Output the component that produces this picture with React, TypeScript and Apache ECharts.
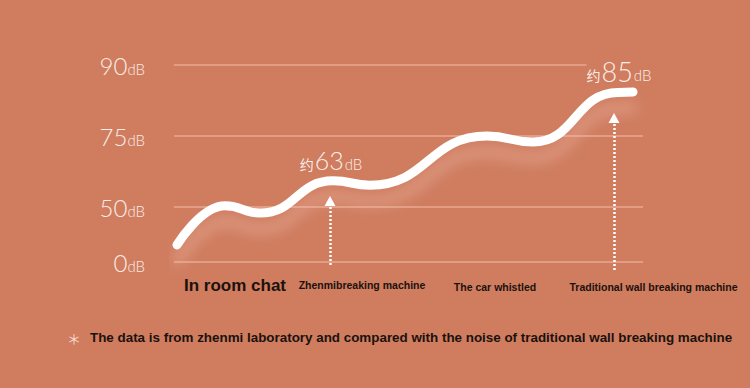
import React, { useEffect, useRef } from "react";
import * as echarts from "echarts";

// Axis: the dB scale of the picture is not linear; these are its stops.
const yTickDb = [0, 50, 75, 90];
const yTickLevel = [0, 55, 126, 197]; // axis level of each stop

// Curve (x along the axis, value in dB)
const curveX = [3, 51, 86, 159, 196, 313, 359, 444, 459];
const curveDb = [15.5, 50.4, 44.5, 59.2, 57.7, 75.0, 72.9, 84.2, 84.3];

// Bottom labels
const categories = ["In room chat", "Zhenmibreaking machine", "The car whistled", "Traditional wall breaking machine"];
const categoryX = [61, 188, 321, 469];

// Arrows with their callouts
const arrowX = [156, 440];
const arrowFromDb = [-2.7, -7.3];
const arrowToDb = [52.1, 78.8];
const calloutDb = [63, 85];

const footnote = "The data is from zhenmi laboratory and compared with the noise of traditional wall breaking machine";

const BG = "#CF7C5F";

function toLevel(db: number): number {
  if (db <= yTickDb[0]) {
    const s = (yTickLevel[1] - yTickLevel[0]) / (yTickDb[1] - yTickDb[0]);
    return yTickLevel[0] + (db - yTickDb[0]) * s;
  }
  for (let i = 1; i < yTickDb.length; i++) {
    if (db <= yTickDb[i] || i === yTickDb.length - 1) {
      const s = (yTickLevel[i] - yTickLevel[i - 1]) / (yTickDb[i] - yTickDb[i - 1]);
      return yTickLevel[i - 1] + (db - yTickDb[i - 1]) * s;
    }
  }
  return 0;
}

export default function App() {
  const ref = useRef<HTMLDivElement>(null);
  useEffect(() => {
    document.body.style.margin = "0";
    if (!ref.current) return;
    const chart = echarts.init(ref.current, null, { renderer: "svg" });
    const txt = "#FAEDE7";
    const calloutRich = {
      a: { fontSize: 14, color: txt, fontFamily: "Noto Sans CJK SC", lineHeight: 30, verticalAlign: "bottom", padding: [0, 1, 4, 0] },
      b0: { fontSize: 25, color: txt, fontFamily: "Lato", fontWeight: 300, lineHeight: 30 },
      b1: { fontSize: 27, color: txt, fontFamily: "Lato", fontWeight: 300, lineHeight: 30 },
      c: { fontSize: 15, color: txt, fontFamily: "Lato", fontWeight: 300, lineHeight: 30, verticalAlign: "bottom", padding: [0, 0, 4, 1] },
    };
    const distances = [26, 32];
    const offsets = [[1, 0], [5, 0]];
    const option: any = {
      animation: false,
      backgroundColor: BG,
      grid: { left: 174, right: 107, top: 65, bottom: 116 },
      xAxis: {
        type: "value",
        min: 0,
        max: 469,
        splitLine: { show: false },
        axisLine: { show: false },
        axisTick: { show: false },
        axisLabel: {
          customValues: categoryX,
          margin: 3,
          formatter: (v: number) => {
            const i = categoryX.indexOf(v);
            return `{c${i}|${categories[i]}}`;
          },
          rich: {
            c0: { fontSize: 17, fontWeight: "bold", fontFamily: "Liberation Sans", color: "#1B120E", lineHeight: 20 },
            c1: { fontSize: 10.5, fontWeight: "bold", fontFamily: "Liberation Sans", color: "#1B120E", lineHeight: 14, padding: [5, 0, 0, 0] },
            c2: { fontSize: 10.5, fontWeight: "bold", fontFamily: "Liberation Sans", color: "#1B120E", lineHeight: 14, padding: [9, 0, 0, 0] },
            c3: { fontSize: 10.5, fontWeight: "bold", fontFamily: "Liberation Sans", color: "#1B120E", lineHeight: 14, padding: [9, 0, 0, 21] },
          },
        },
      },
      yAxis: {
        type: "value",
        min: -10,
        max: yTickLevel[yTickLevel.length - 1],
        axisLine: { show: false },
        axisTick: { show: false, customValues: yTickLevel },
        splitLine: { show: true, lineStyle: { color: "#EAA990", width: 1.5 } },
        axisLabel: {
          customValues: yTickLevel,
          margin: 29,
          formatter: (v: number) => {
            const i = yTickLevel.indexOf(v);
            return `{n|${yTickDb[i]}}{u|dB}`;
          },
          rich: {
            n: { fontSize: 24, fontFamily: "Lato", fontWeight: 300, color: txt, lineHeight: 28 },
            u: { fontSize: 15, fontFamily: "Lato", fontWeight: 300, color: txt, lineHeight: 28, verticalAlign: "bottom", padding: [0, 0, 3, 0] },
          },
        },
      },
      series: [
        {
          type: "line",
          data: curveX.map((x, i) => [x, toLevel(curveDb[i])]),
          smooth: 0.5,
          smoothMonotone: "x",
          symbol: "none",
          lineStyle: {
            color: "#FFFFFF",
            width: 9,
            cap: "round",
            join: "round",
            shadowColor: "rgba(245,200,182,0.45)",
            shadowBlur: 14,
            shadowOffsetY: 16,
          },
          markLine: {
            silent: true,
            symbol: ["none", "triangle"],
            symbolSize: [11, 10],
            lineStyle: { color: "#FFFFFF", type: [2, 2], width: 2.5 },
            data: arrowX.map((x, i) => [
              {
                coord: [x, toLevel(arrowFromDb[i])],
                label: {
                  show: true,
                  position: "end",
                  distance: distances[i],
                  offset: offsets[i],
                  formatter: `{a|约}{b${i}|${calloutDb[i]}}{c|dB}`,
                  rich: calloutRich,
                  backgroundColor: BG,
                },
              },
              { coord: [x, toLevel(arrowToDb[i])] },
            ]),
          },
        },
      ],
      graphic: [
        {
          type: "text",
          left: 67,
          top: 331,
          style: { text: "＊", fontSize: 14, fontFamily: "Noto Sans CJK SC", fill: "#F6DACD" },
        },
        {
          type: "text",
          left: 90,
          top: 331,
          style: { text: footnote, fontSize: 13.4, fontWeight: "bold", fontFamily: "Liberation Sans", fill: "#1B120E" },
        },
      ],
    };
    chart.setOption(option);
    return () => chart.dispose();
  }, []);
  return <div ref={ref} style={{ width: 750, height: 388 }} />;
}
